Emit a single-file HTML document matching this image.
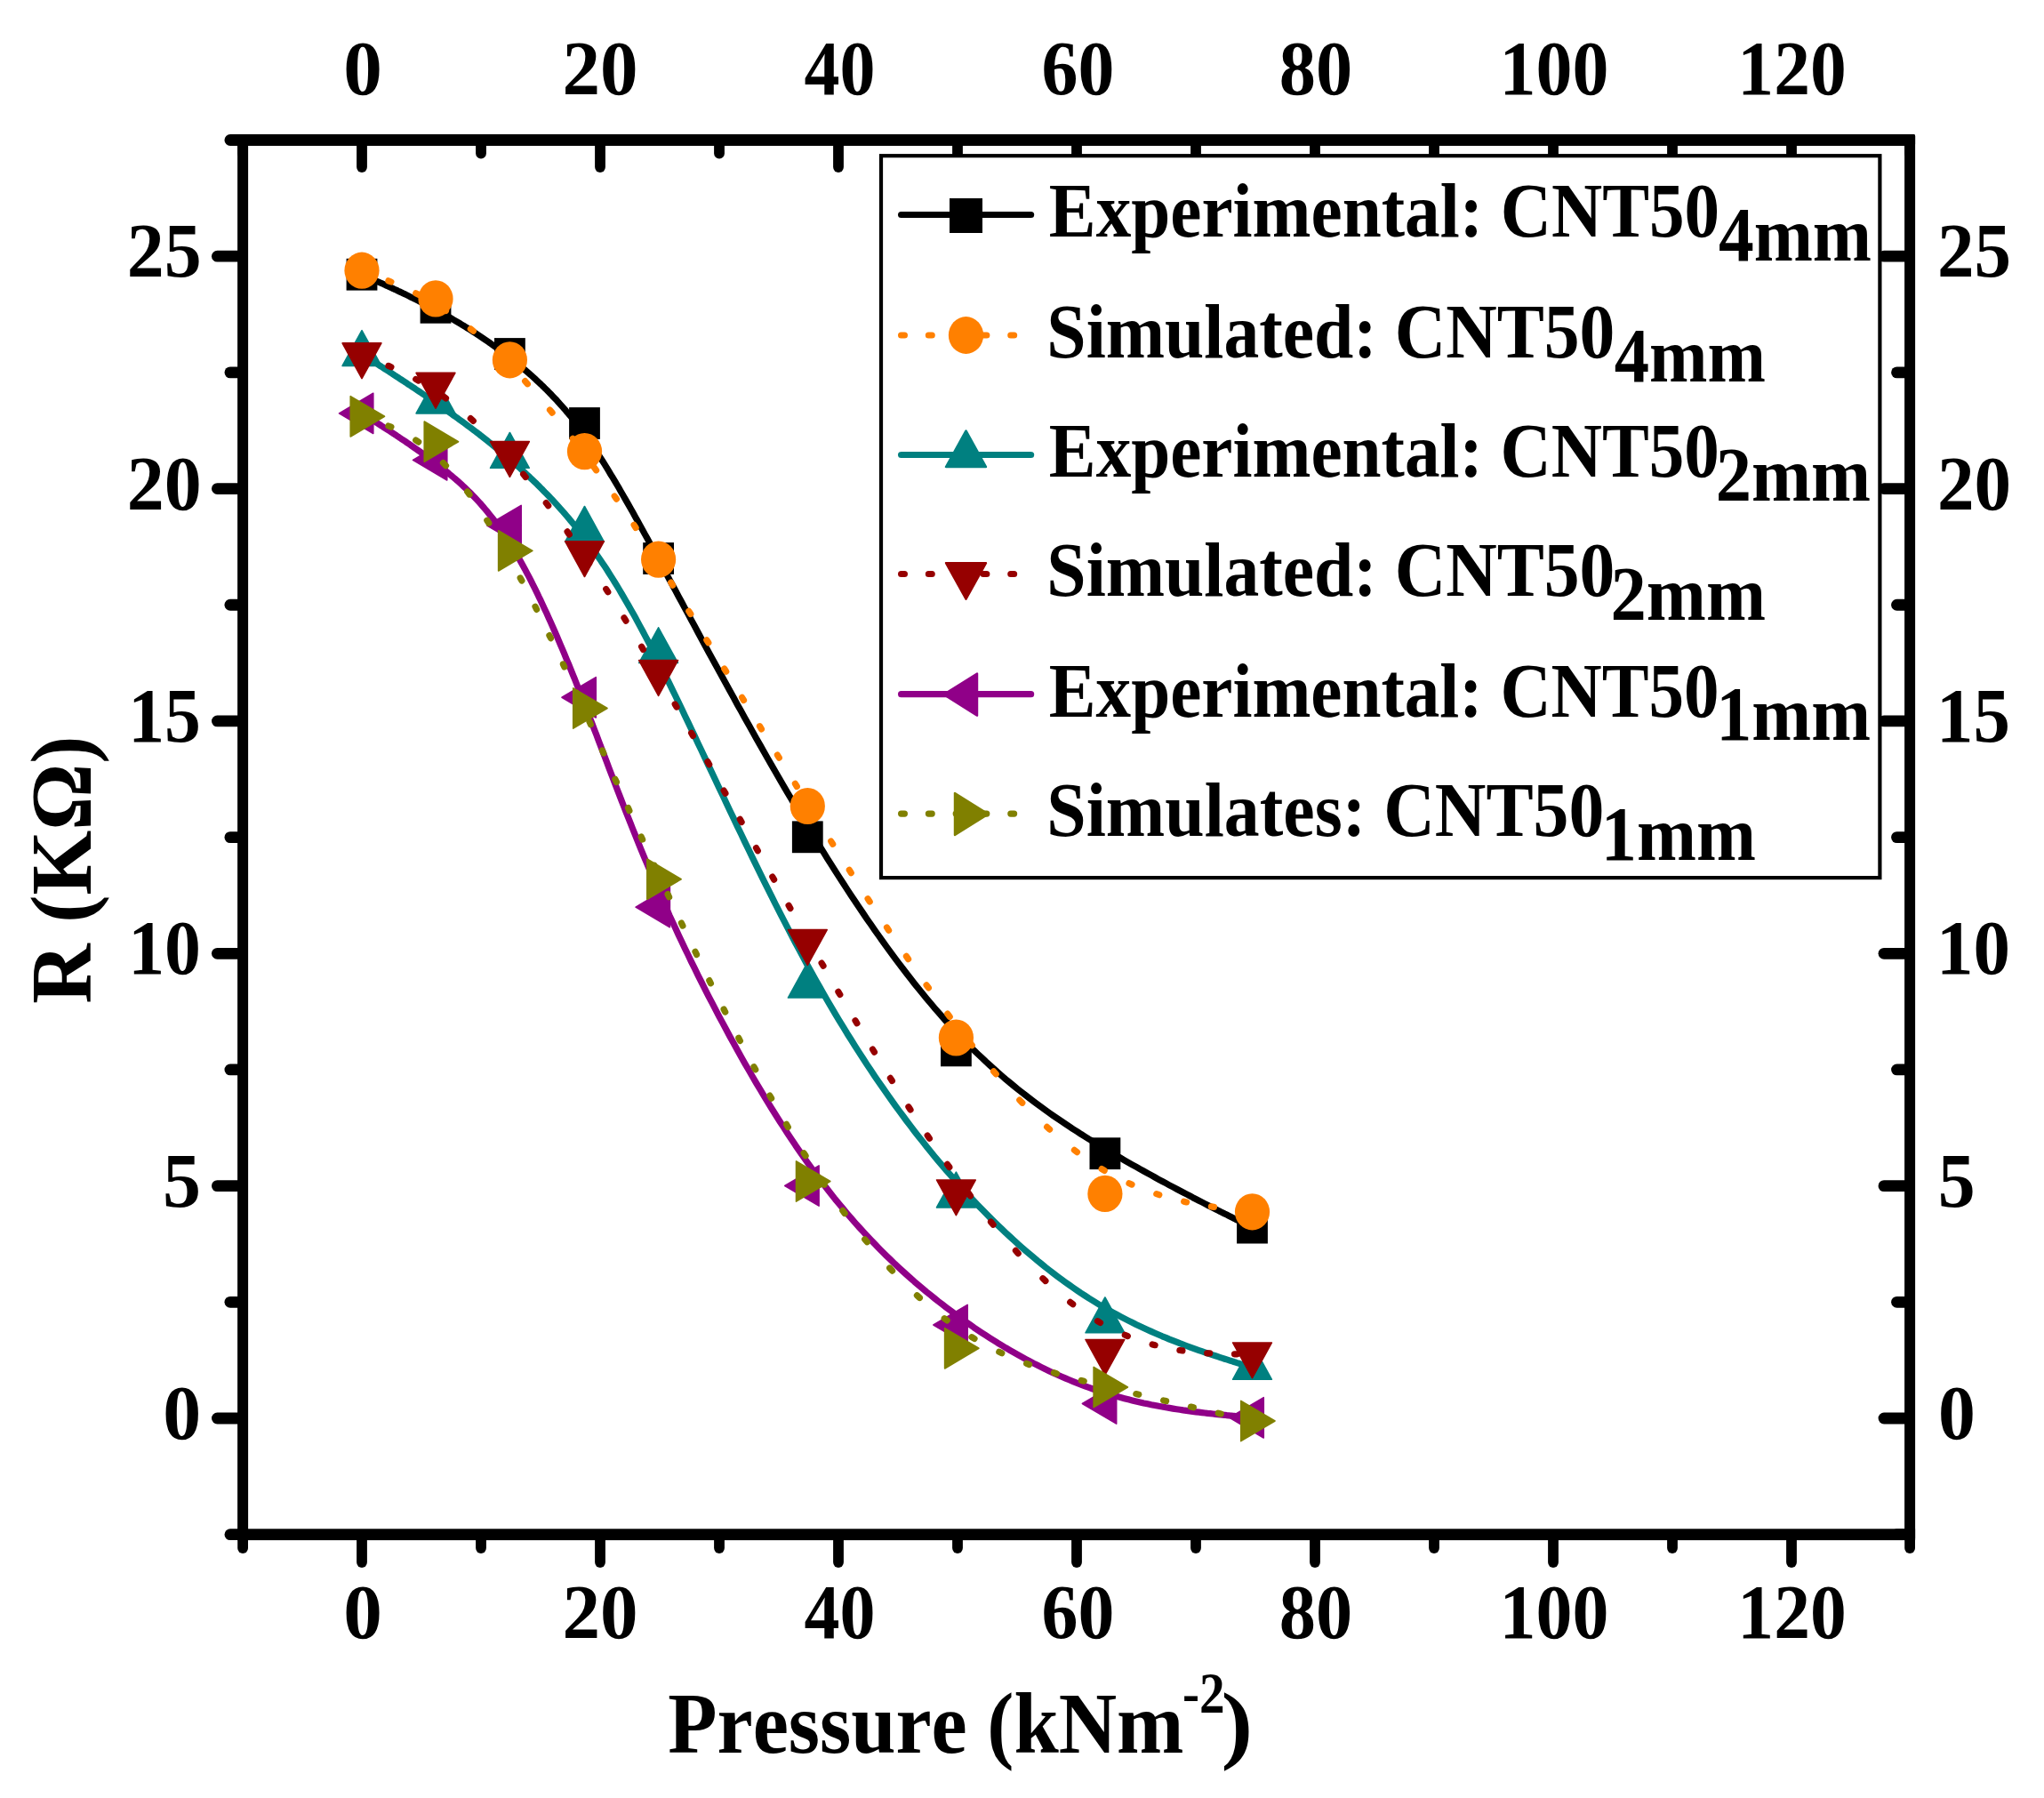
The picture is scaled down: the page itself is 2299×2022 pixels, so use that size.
<!DOCTYPE html>
<html><head><meta charset="utf-8"><title>R vs Pressure</title>
<style>html,body{margin:0;padding:0;background:#fff}svg{display:block}</style>
</head><body>
<svg width="2299" height="2022" viewBox="0 0 2299 2022" shape-rendering="geometricPrecision">
<rect x="0" y="0" width="2299" height="2022" fill="#fff"/>
<g fill="#000">
<rect x="267.10" y="151.10" width="1887.00" height="12.8" rx="2" ry="2"/>
<rect x="267.10" y="1719.30" width="1887.00" height="12.8"/>
<rect x="267.10" y="151.10" width="12.0" height="1581.00"/>
<rect x="2142.10" y="151.10" width="12.0" height="1581.00" rx="2" ry="2"/>
</g>
<g stroke="#000" stroke-width="11.8" fill="none" stroke-linecap="round">
<line x1="273.10" y1="158.5" x2="273.10" y2="172.5"/>
<line x1="273.10" y1="1726.7" x2="273.10" y2="1741.0"/>
<line x1="407.00" y1="158.5" x2="407.00" y2="188.0"/>
<line x1="407.00" y1="1726.7" x2="407.00" y2="1757.0"/>
<line x1="541.00" y1="158.5" x2="541.00" y2="172.5"/>
<line x1="541.00" y1="1726.7" x2="541.00" y2="1741.0"/>
<line x1="675.00" y1="158.5" x2="675.00" y2="188.0"/>
<line x1="675.00" y1="1726.7" x2="675.00" y2="1757.0"/>
<line x1="809.00" y1="158.5" x2="809.00" y2="172.5"/>
<line x1="809.00" y1="1726.7" x2="809.00" y2="1741.0"/>
<line x1="943.00" y1="158.5" x2="943.00" y2="188.0"/>
<line x1="943.00" y1="1726.7" x2="943.00" y2="1757.0"/>
<line x1="1077.00" y1="158.5" x2="1077.00" y2="172.5"/>
<line x1="1077.00" y1="1726.7" x2="1077.00" y2="1741.0"/>
<line x1="1211.00" y1="158.5" x2="1211.00" y2="188.0"/>
<line x1="1211.00" y1="1726.7" x2="1211.00" y2="1757.0"/>
<line x1="1345.00" y1="158.5" x2="1345.00" y2="172.5"/>
<line x1="1345.00" y1="1726.7" x2="1345.00" y2="1741.0"/>
<line x1="1479.00" y1="158.5" x2="1479.00" y2="188.0"/>
<line x1="1479.00" y1="1726.7" x2="1479.00" y2="1757.0"/>
<line x1="1613.00" y1="158.5" x2="1613.00" y2="172.5"/>
<line x1="1613.00" y1="1726.7" x2="1613.00" y2="1741.0"/>
<line x1="1747.00" y1="158.5" x2="1747.00" y2="188.0"/>
<line x1="1747.00" y1="1726.7" x2="1747.00" y2="1757.0"/>
<line x1="1881.00" y1="158.5" x2="1881.00" y2="172.5"/>
<line x1="1881.00" y1="1726.7" x2="1881.00" y2="1741.0"/>
<line x1="2015.00" y1="158.5" x2="2015.00" y2="188.0"/>
<line x1="2015.00" y1="1726.7" x2="2015.00" y2="1757.0"/>
<line x1="2148.10" y1="158.5" x2="2148.10" y2="172.5"/>
<line x1="2148.10" y1="1726.7" x2="2148.10" y2="1741.0"/>
</g>
<g stroke="#000" stroke-width="12.8" fill="none" stroke-linecap="round">
<line x1="272.1" y1="1725.70" x2="258.9" y2="1725.70"/>
<line x1="2147.1" y1="1725.70" x2="2133.5" y2="1725.70"/>
<line x1="272.1" y1="1595.02" x2="244.4" y2="1595.02"/>
<line x1="2147.1" y1="1595.02" x2="2119.0" y2="1595.02"/>
<line x1="272.1" y1="1464.33" x2="258.9" y2="1464.33"/>
<line x1="2147.1" y1="1464.33" x2="2133.5" y2="1464.33"/>
<line x1="272.1" y1="1333.65" x2="244.4" y2="1333.65"/>
<line x1="2147.1" y1="1333.65" x2="2119.0" y2="1333.65"/>
<line x1="272.1" y1="1202.97" x2="258.9" y2="1202.97"/>
<line x1="2147.1" y1="1202.97" x2="2133.5" y2="1202.97"/>
<line x1="272.1" y1="1072.28" x2="244.4" y2="1072.28"/>
<line x1="2147.1" y1="1072.28" x2="2119.0" y2="1072.28"/>
<line x1="272.1" y1="941.60" x2="258.9" y2="941.60"/>
<line x1="2147.1" y1="941.60" x2="2133.5" y2="941.60"/>
<line x1="272.1" y1="810.92" x2="244.4" y2="810.92"/>
<line x1="2147.1" y1="810.92" x2="2119.0" y2="810.92"/>
<line x1="272.1" y1="680.23" x2="258.9" y2="680.23"/>
<line x1="2147.1" y1="680.23" x2="2133.5" y2="680.23"/>
<line x1="272.1" y1="549.55" x2="244.4" y2="549.55"/>
<line x1="2147.1" y1="549.55" x2="2119.0" y2="549.55"/>
<line x1="272.1" y1="418.87" x2="258.9" y2="418.87"/>
<line x1="2147.1" y1="418.87" x2="2133.5" y2="418.87"/>
<line x1="272.1" y1="288.18" x2="244.4" y2="288.18"/>
<line x1="2147.1" y1="288.18" x2="2119.0" y2="288.18"/>
<line x1="272.1" y1="157.50" x2="258.9" y2="157.50"/>
<line x1="2147.1" y1="157.50" x2="2133.5" y2="157.50"/>
</g>
<g font-family="'Liberation Serif', serif" font-weight="bold" fill="#000" style="font-kerning:none">
<text transform="translate(386.28,106.30) scale(0.9977,1)" font-size="87.5" >0</text>
<text transform="translate(386.28,1841.50) scale(0.9977,1)" font-size="87.5" >0</text>
<text transform="translate(632.43,106.30) scale(0.9728,1)" font-size="87.5" >20</text>
<text transform="translate(632.43,1841.50) scale(0.9728,1)" font-size="87.5" >20</text>
<text transform="translate(904.51,106.30) scale(0.9148,1)" font-size="87.5" >40</text>
<text transform="translate(904.51,1841.50) scale(0.9148,1)" font-size="87.5" >40</text>
<text transform="translate(1171.60,106.30) scale(0.9350,1)" font-size="87.5" >60</text>
<text transform="translate(1171.60,1841.50) scale(0.9350,1)" font-size="87.5" >60</text>
<text transform="translate(1438.86,106.30) scale(0.9414,1)" font-size="87.5" >80</text>
<text transform="translate(1438.86,1841.50) scale(0.9414,1)" font-size="87.5" >80</text>
<text transform="translate(1686.54,106.30) scale(0.9362,1)" font-size="87.5" >100</text>
<text transform="translate(1686.54,1841.50) scale(0.9362,1)" font-size="87.5" >100</text>
<text transform="translate(1954.37,106.30) scale(0.9321,1)" font-size="87.5" >120</text>
<text transform="translate(1954.37,1841.50) scale(0.9321,1)" font-size="87.5" >120</text>
<text transform="translate(183.23,1618.02) scale(0.9815,1)" font-size="87.5" >0</text>
<text transform="translate(2180.01,1618.02) scale(0.9573,1)" font-size="87.5" >0</text>
<text transform="translate(183.06,1356.65) scale(0.9827,1)" font-size="87.5" >5</text>
<text transform="translate(2179.84,1356.65) scale(0.9584,1)" font-size="87.5" >5</text>
<text transform="translate(144.25,1095.28) scale(0.9344,1)" font-size="87.5" >10</text>
<text transform="translate(2178.05,1095.28) scale(0.9487,1)" font-size="87.5" >10</text>
<text transform="translate(144.26,833.92) scale(0.9329,1)" font-size="87.5" >15</text>
<text transform="translate(2178.06,833.92) scale(0.9471,1)" font-size="87.5" >15</text>
<text transform="translate(142.78,572.55) scale(0.9591,1)" font-size="87.5" >20</text>
<text transform="translate(2179.01,572.55) scale(0.9504,1)" font-size="87.5" >20</text>
<text transform="translate(142.78,311.18) scale(0.9576,1)" font-size="87.5" >25</text>
<text transform="translate(2179.01,311.18) scale(0.9489,1)" font-size="87.5" >25</text>
<text transform="translate(751.25,1970.90) scale(0.9326,1)" font-size="97.0" >Pressure (kNm</text>
<text transform="translate(1329.91,1925.60) scale(0.8668,1)" font-size="66" >-2</text>
<text transform="translate(1373.55,1970.90) scale(1.1038,1)" font-size="97.0" >)</text>
<text transform="translate(101.8,1128.70) rotate(-90) scale(0.9647,1)" font-size="97.0">R (K&#937;)</text>
</g>
<path d="M407.0,308.7 L407.0,308.7 L407.0,308.7 L407.0,308.7 L407.0,308.7 L407.0,308.7 L407.1,308.7 L407.1,308.7 L407.1,308.8 L407.2,308.8 L407.3,308.8 L407.3,308.9 L407.5,308.9 L407.6,309.0 L407.7,309.0 L407.9,309.1 L408.1,309.2 L408.3,309.3 L408.5,309.4 L408.8,309.5 L409.1,309.6 L409.4,309.8 L409.8,309.9 L410.2,310.1 L410.6,310.3 L411.1,310.5 L411.6,310.8 L412.2,311.0 L412.8,311.3 L413.4,311.6 L414.1,311.9 L414.8,312.2 L415.6,312.5 L416.4,312.9 L417.3,313.3 L418.2,313.7 L419.2,314.2 L420.3,314.6 L421.4,315.1 L422.6,315.7 L423.8,316.2 L425.1,316.8 L426.4,317.4 L427.8,318.0 L429.2,318.6 L430.7,319.3 L432.2,320.0 L433.8,320.7 L435.4,321.5 L437.1,322.2 L438.8,323.0 L440.5,323.8 L442.3,324.6 L444.1,325.5 L446.0,326.3 L447.8,327.2 L449.8,328.1 L451.7,329.0 L453.7,330.0 L455.7,330.9 L457.7,331.9 L459.7,332.9 L461.8,333.9 L463.9,334.9 L466.0,336.0 L468.2,337.0 L470.3,338.1 L472.5,339.2 L474.6,340.3 L476.8,341.4 L479.0,342.5 L481.2,343.6 L483.4,344.8 L485.6,346.0 L487.8,347.1 L490.1,348.3 L492.3,349.5 L494.5,350.7 L496.7,351.9 L498.9,353.2 L501.2,354.4 L503.4,355.7 L505.6,356.9 L507.8,358.2 L510.0,359.5 L512.3,360.8 L514.5,362.1 L516.7,363.4 L518.9,364.8 L521.2,366.1 L523.4,367.5 L525.6,368.9 L527.8,370.3 L530.1,371.7 L532.3,373.1 L534.5,374.5 L536.7,376.0 L539.0,377.5 L541.2,379.0 L543.4,380.5 L545.6,382.0 L547.9,383.5 L550.1,385.0 L552.3,386.6 L554.6,388.2 L556.8,389.8 L559.0,391.4 L561.2,393.0 L563.5,394.7 L565.7,396.3 L567.9,398.0 L570.2,399.7 L572.4,401.4 L574.6,403.2 L576.9,404.9 L579.1,406.7 L581.3,408.5 L583.6,410.3 L585.8,412.2 L588.0,414.0 L590.3,415.9 L592.5,417.8 L594.8,419.8 L597.0,421.7 L599.2,423.7 L601.5,425.7 L603.7,427.8 L605.9,429.9 L608.2,432.0 L610.4,434.1 L612.6,436.3 L614.9,438.5 L617.1,440.8 L619.4,443.1 L621.6,445.4 L623.8,447.7 L626.1,450.1 L628.3,452.6 L630.5,455.1 L632.8,457.6 L635.0,460.1 L637.2,462.8 L639.5,465.4 L641.7,468.1 L643.9,470.8 L646.2,473.6 L648.4,476.5 L650.6,479.4 L652.9,482.3 L655.1,485.3 L657.3,488.3 L659.6,491.4 L661.8,494.6 L664.0,497.8 L666.3,501.0 L668.5,504.4 L670.8,507.7 L673.0,511.2 L675.3,514.7 L677.6,518.3 L679.9,521.9 L682.2,525.6 L684.5,529.4 L686.8,533.3 L689.2,537.2 L691.6,541.2 L694.0,545.3 L696.5,549.4 L698.9,553.7 L701.4,558.0 L703.9,562.4 L706.5,566.9 L709.1,571.5 L711.7,576.1 L714.4,580.9 L717.1,585.8 L719.8,590.7 L722.6,595.7 L725.4,600.9 L728.3,606.1 L731.2,611.5 L734.2,616.9 L737.2,622.5 L740.2,628.1 L743.4,633.9 L746.5,639.7 L749.8,645.7 L753.0,651.8 L756.4,658.0 L759.8,664.3 L763.2,670.7 L766.8,677.3 L770.3,683.9 L774.0,690.6 L777.6,697.4 L781.4,704.3 L785.1,711.3 L789.0,718.4 L792.8,725.5 L796.7,732.7 L800.7,739.9 L804.7,747.3 L808.7,754.6 L812.8,762.1 L816.9,769.5 L821.0,777.0 L825.2,784.6 L829.3,792.2 L833.6,799.8 L837.8,807.4 L842.1,815.1 L846.4,822.7 L850.7,830.4 L855.1,838.1 L859.4,845.8 L863.8,853.5 L868.2,861.1 L872.6,868.8 L877.0,876.4 L881.5,884.1 L885.9,891.6 L890.4,899.2 L894.8,906.7 L899.3,914.2 L903.7,921.7 L908.2,929.1 L912.7,936.5 L917.1,943.8 L921.6,951.0 L926.1,958.2 L930.5,965.3 L935.0,972.4 L939.4,979.4 L943.9,986.4 L948.4,993.3 L952.8,1000.1 L957.3,1006.9 L961.7,1013.6 L966.2,1020.3 L970.7,1026.9 L975.1,1033.4 L979.6,1039.8 L984.0,1046.2 L988.5,1052.5 L993.0,1058.8 L997.4,1065.0 L1001.9,1071.1 L1006.3,1077.1 L1010.8,1083.1 L1015.3,1089.0 L1019.7,1094.8 L1024.2,1100.5 L1028.6,1106.2 L1033.1,1111.8 L1037.6,1117.3 L1042.0,1122.7 L1046.5,1128.0 L1050.9,1133.3 L1055.4,1138.4 L1059.9,1143.5 L1064.3,1148.5 L1068.8,1153.5 L1073.2,1158.3 L1077.7,1163.0 L1082.2,1167.7 L1086.6,1172.3 L1091.1,1176.8 L1095.5,1181.2 L1100.0,1185.5 L1104.5,1189.7 L1108.9,1193.9 L1113.4,1198.0 L1117.9,1202.0 L1122.3,1206.0 L1126.8,1209.9 L1131.2,1213.7 L1135.7,1217.4 L1140.2,1221.1 L1144.6,1224.7 L1149.1,1228.3 L1153.5,1231.7 L1158.0,1235.2 L1162.5,1238.6 L1166.9,1241.9 L1171.4,1245.2 L1175.8,1248.4 L1180.3,1251.6 L1184.7,1254.7 L1189.2,1257.8 L1193.7,1260.8 L1198.1,1263.8 L1202.6,1266.8 L1207.0,1269.7 L1211.5,1272.5 L1215.9,1275.4 L1220.4,1278.2 L1224.8,1281.0 L1229.3,1283.7 L1233.7,1286.4 L1238.1,1289.1 L1242.6,1291.8 L1247.0,1294.4 L1251.5,1297.1 L1255.9,1299.7 L1260.3,1302.2 L1264.7,1304.8 L1269.1,1307.3 L1273.5,1309.8 L1277.8,1312.2 L1282.1,1314.7 L1286.4,1317.0 L1290.7,1319.4 L1294.9,1321.7 L1299.1,1324.0 L1303.2,1326.3 L1307.3,1328.5 L1311.4,1330.7 L1315.3,1332.8 L1319.3,1334.9 L1323.2,1337.0 L1327.0,1339.0 L1330.8,1341.0 L1334.5,1342.9 L1338.1,1344.8 L1341.6,1346.7 L1345.1,1348.5 L1348.5,1350.2 L1351.8,1351.9 L1355.1,1353.6 L1358.2,1355.2 L1361.2,1356.8 L1364.2,1358.3 L1367.1,1359.7 L1369.8,1361.1 L1372.5,1362.5 L1375.0,1363.7 L1377.5,1365.0 L1379.8,1366.1 L1382.0,1367.2 L1384.1,1368.3 L1386.1,1369.3 L1387.9,1370.2 L1389.7,1371.1 L1391.3,1372.0 L1392.9,1372.7 L1394.4,1373.5 L1395.7,1374.2 L1397.0,1374.8 L1398.2,1375.4 L1399.3,1376.0 L1400.3,1376.5 L1401.3,1377.0 L1402.1,1377.4 L1402.9,1377.8 L1403.7,1378.2 L1404.3,1378.5 L1404.9,1378.8 L1405.4,1379.1 L1405.9,1379.3 L1406.4,1379.5 L1406.7,1379.7 L1407.1,1379.9 L1407.4,1380.0 L1407.6,1380.1 L1407.8,1380.2 L1408.0,1380.3 L1408.1,1380.4 L1408.2,1380.5 L1408.3,1380.5 L1408.4,1380.5 L1408.4,1380.6 L1408.5,1380.6 L1408.5,1380.6 L1408.5,1380.6 L1408.5,1380.6 L1408.5,1380.6" fill="none" stroke="#000000" stroke-width="7.2" stroke-linejoin="round" stroke-linecap="round"/>
<rect x="389.60" y="290.80" width="34.8" height="35.8" fill="#000000"/>
<rect x="472.60" y="327.90" width="34.8" height="35.8" fill="#000000"/>
<rect x="556.00" y="380.10" width="34.8" height="35.8" fill="#000000"/>
<rect x="640.10" y="458.10" width="34.8" height="35.8" fill="#000000"/>
<rect x="723.20" y="610.10" width="34.8" height="35.8" fill="#000000"/>
<rect x="890.90" y="923.40" width="34.8" height="35.8" fill="#000000"/>
<rect x="1058.00" y="1163.50" width="34.8" height="35.8" fill="#000000"/>
<rect x="1225.50" y="1279.30" width="34.8" height="35.8" fill="#000000"/>
<rect x="1391.10" y="1362.70" width="34.8" height="35.8" fill="#000000"/>
<path d="M407.0,304.2L409.1,305.0M436.9,315.8L439.9,317.0M467.7,329.8L470.7,331.3M498.5,347.4L501.5,349.4M529.3,369.9L532.3,372.3M560.1,397.1L563.1,400.0M590.6,428.6L593.4,431.8M618.5,461.0L621.1,464.1M644.2,493.3L646.6,496.5M668.3,525.7L670.6,528.8M691.2,558.0L693.4,561.1M713.1,590.3L715.1,593.5M734.1,622.7L736.1,625.8M754.7,655.0L756.6,658.2M774.8,687.4L776.8,690.5M794.8,719.7L796.8,722.8M814.7,752.0L816.7,755.2M834.6,784.4L836.5,787.5M854.5,816.7L856.4,819.9M874.4,849.1L876.3,852.2M894.4,881.4L896.3,884.5M914.5,913.7L916.4,916.9M934.7,946.1L936.7,949.2M955.3,978.4L957.3,981.6M976.1,1010.8L978.2,1013.9M997.5,1043.1L999.6,1046.2M1019.4,1075.4L1021.6,1078.6M1042.1,1107.8L1044.4,1110.9M1065.8,1140.1L1068.2,1143.3M1090.8,1172.5L1093.3,1175.6M1117.6,1204.8L1120.3,1207.9M1146.8,1237.1L1149.8,1240.3M1177.6,1267.4L1180.6,1270.1M1208.4,1293.4L1211.4,1295.6M1239.2,1314.6L1242.2,1316.4M1270.0,1330.8L1273.0,1332.1M1300.8,1342.7L1303.8,1343.7M1331.6,1351.2L1334.6,1351.9M1362.4,1356.9L1365.4,1357.4M1393.2,1360.9L1396.2,1361.3" fill="none" stroke="#FF8000" stroke-width="7.2" stroke-linecap="round"/>
<ellipse cx="407.00" cy="304.20" rx="19.6" ry="20.6" fill="#FF8000"/>
<ellipse cx="490.00" cy="335.90" rx="19.6" ry="20.6" fill="#FF8000"/>
<ellipse cx="573.40" cy="404.80" rx="19.6" ry="20.6" fill="#FF8000"/>
<ellipse cx="657.50" cy="507.60" rx="19.6" ry="20.6" fill="#FF8000"/>
<ellipse cx="740.60" cy="629.10" rx="19.6" ry="20.6" fill="#FF8000"/>
<ellipse cx="908.30" cy="906.50" rx="19.6" ry="20.6" fill="#FF8000"/>
<ellipse cx="1075.40" cy="1167.00" rx="19.6" ry="20.6" fill="#FF8000"/>
<ellipse cx="1242.90" cy="1342.40" rx="19.6" ry="20.6" fill="#FF8000"/>
<ellipse cx="1408.50" cy="1362.80" rx="19.6" ry="20.6" fill="#FF8000"/>
<path d="M407.0,398.2 L407.0,398.2 L407.0,398.2 L407.0,398.2 L407.0,398.2 L407.0,398.2 L407.1,398.2 L407.1,398.3 L407.1,398.3 L407.2,398.3 L407.3,398.4 L407.3,398.4 L407.5,398.5 L407.6,398.6 L407.7,398.7 L407.9,398.8 L408.1,398.9 L408.3,399.0 L408.5,399.2 L408.8,399.4 L409.1,399.6 L409.4,399.8 L409.8,400.0 L410.2,400.3 L410.6,400.5 L411.1,400.8 L411.6,401.2 L412.2,401.5 L412.8,401.9 L413.4,402.3 L414.1,402.8 L414.8,403.2 L415.6,403.7 L416.4,404.3 L417.3,404.8 L418.2,405.4 L419.2,406.1 L420.3,406.7 L421.4,407.5 L422.6,408.2 L423.8,409.0 L425.1,409.8 L426.4,410.7 L427.8,411.6 L429.2,412.5 L430.7,413.4 L432.2,414.4 L433.8,415.5 L435.4,416.5 L437.1,417.6 L438.8,418.7 L440.5,419.8 L442.3,421.0 L444.1,422.2 L446.0,423.4 L447.8,424.6 L449.8,425.9 L451.7,427.1 L453.7,428.4 L455.7,429.8 L457.7,431.1 L459.7,432.5 L461.8,433.8 L463.9,435.2 L466.0,436.6 L468.2,438.1 L470.3,439.5 L472.5,440.9 L474.6,442.4 L476.8,443.9 L479.0,445.4 L481.2,446.9 L483.4,448.4 L485.6,449.9 L487.8,451.4 L490.1,452.9 L492.3,454.5 L494.5,456.0 L496.7,457.6 L498.9,459.1 L501.2,460.7 L503.4,462.2 L505.6,463.8 L507.8,465.4 L510.0,467.0 L512.3,468.6 L514.5,470.2 L516.7,471.8 L518.9,473.4 L521.2,475.0 L523.4,476.7 L525.6,478.3 L527.8,480.0 L530.1,481.7 L532.3,483.3 L534.5,485.0 L536.7,486.7 L539.0,488.4 L541.2,490.2 L543.4,491.9 L545.6,493.6 L547.9,495.4 L550.1,497.2 L552.3,499.0 L554.6,500.8 L556.8,502.6 L559.0,504.4 L561.2,506.2 L563.5,508.1 L565.7,510.0 L567.9,511.8 L570.2,513.7 L572.4,515.6 L574.6,517.6 L576.9,519.5 L579.1,521.5 L581.3,523.4 L583.6,525.4 L585.8,527.4 L588.0,529.5 L590.3,531.5 L592.5,533.6 L594.8,535.7 L597.0,537.8 L599.2,539.9 L601.5,542.1 L603.7,544.2 L605.9,546.4 L608.2,548.7 L610.4,550.9 L612.6,553.2 L614.9,555.5 L617.1,557.8 L619.4,560.2 L621.6,562.5 L623.8,564.9 L626.1,567.4 L628.3,569.9 L630.5,572.4 L632.8,574.9 L635.0,577.4 L637.2,580.0 L639.5,582.7 L641.7,585.3 L643.9,588.0 L646.2,590.7 L648.4,593.5 L650.6,596.3 L652.9,599.1 L655.1,602.0 L657.3,604.9 L659.6,607.8 L661.8,610.8 L664.0,613.8 L666.3,616.9 L668.5,620.1 L670.8,623.2 L673.0,626.5 L675.3,629.8 L677.6,633.2 L679.9,636.6 L682.2,640.1 L684.5,643.7 L686.8,647.4 L689.2,651.2 L691.6,655.0 L694.0,658.9 L696.5,663.0 L698.9,667.1 L701.4,671.3 L703.9,675.7 L706.5,680.1 L709.1,684.7 L711.7,689.3 L714.4,694.1 L717.1,699.1 L719.8,704.1 L722.6,709.3 L725.4,714.6 L728.3,720.0 L731.2,725.6 L734.2,731.3 L737.2,737.2 L740.2,743.2 L743.4,749.4 L746.5,755.8 L749.8,762.3 L753.0,768.9 L756.4,775.8 L759.8,782.8 L763.2,789.9 L766.8,797.3 L770.3,804.7 L774.0,812.3 L777.6,820.1 L781.4,827.9 L785.1,835.9 L789.0,844.0 L792.8,852.1 L796.7,860.4 L800.7,868.8 L804.7,877.2 L808.7,885.8 L812.8,894.3 L816.9,903.0 L821.0,911.7 L825.2,920.4 L829.3,929.2 L833.6,938.0 L837.8,946.9 L842.1,955.7 L846.4,964.6 L850.7,973.4 L855.1,982.3 L859.4,991.1 L863.8,999.9 L868.2,1008.7 L872.6,1017.5 L877.0,1026.2 L881.5,1034.8 L885.9,1043.4 L890.4,1052.0 L894.8,1060.5 L899.3,1068.8 L903.7,1077.2 L908.2,1085.4 L912.7,1093.5 L917.1,1101.5 L921.6,1109.4 L926.1,1117.2 L930.5,1125.0 L935.0,1132.6 L939.4,1140.1 L943.9,1147.6 L948.4,1154.9 L952.8,1162.2 L957.3,1169.3 L961.7,1176.4 L966.2,1183.4 L970.7,1190.3 L975.1,1197.1 L979.6,1203.8 L984.0,1210.4 L988.5,1217.0 L993.0,1223.4 L997.4,1229.8 L1001.9,1236.1 L1006.3,1242.3 L1010.8,1248.5 L1015.3,1254.5 L1019.7,1260.5 L1024.2,1266.4 L1028.6,1272.2 L1033.1,1278.0 L1037.6,1283.6 L1042.0,1289.2 L1046.5,1294.7 L1050.9,1300.2 L1055.4,1305.6 L1059.9,1310.9 L1064.3,1316.1 L1068.8,1321.2 L1073.2,1326.3 L1077.7,1331.4 L1082.2,1336.3 L1086.6,1341.2 L1091.1,1346.0 L1095.5,1350.8 L1100.0,1355.5 L1104.5,1360.1 L1108.9,1364.6 L1113.4,1369.1 L1117.9,1373.5 L1122.3,1377.9 L1126.8,1382.2 L1131.2,1386.4 L1135.7,1390.5 L1140.2,1394.6 L1144.6,1398.7 L1149.1,1402.6 L1153.5,1406.5 L1158.0,1410.3 L1162.5,1414.1 L1166.9,1417.8 L1171.4,1421.4 L1175.8,1425.0 L1180.3,1428.5 L1184.7,1431.9 L1189.2,1435.3 L1193.7,1438.6 L1198.1,1441.8 L1202.6,1445.0 L1207.0,1448.1 L1211.5,1451.2 L1215.9,1454.2 L1220.4,1457.1 L1224.8,1460.0 L1229.3,1462.8 L1233.7,1465.5 L1238.1,1468.2 L1242.6,1470.8 L1247.0,1473.3 L1251.5,1475.8 L1255.9,1478.2 L1260.3,1480.6 L1264.7,1482.9 L1269.1,1485.1 L1273.5,1487.3 L1277.8,1489.5 L1282.1,1491.5 L1286.4,1493.5 L1290.7,1495.5 L1294.9,1497.4 L1299.1,1499.2 L1303.2,1501.0 L1307.3,1502.8 L1311.4,1504.4 L1315.3,1506.1 L1319.3,1507.7 L1323.2,1509.2 L1327.0,1510.7 L1330.8,1512.1 L1334.5,1513.5 L1338.1,1514.8 L1341.6,1516.1 L1345.1,1517.4 L1348.5,1518.6 L1351.8,1519.7 L1355.1,1520.8 L1358.2,1521.9 L1361.2,1522.9 L1364.2,1523.9 L1367.1,1524.8 L1369.8,1525.7 L1372.5,1526.6 L1375.0,1527.4 L1377.5,1528.2 L1379.8,1528.9 L1382.0,1529.6 L1384.1,1530.3 L1386.1,1530.9 L1387.9,1531.5 L1389.7,1532.0 L1391.3,1532.6 L1392.9,1533.1 L1394.4,1533.5 L1395.7,1534.0 L1397.0,1534.4 L1398.2,1534.7 L1399.3,1535.1 L1400.3,1535.4 L1401.3,1535.7 L1402.1,1536.0 L1402.9,1536.2 L1403.7,1536.5 L1404.3,1536.7 L1404.9,1536.9 L1405.4,1537.0 L1405.9,1537.2 L1406.4,1537.3 L1406.7,1537.4 L1407.1,1537.5 L1407.4,1537.6 L1407.6,1537.7 L1407.8,1537.8 L1408.0,1537.8 L1408.1,1537.9 L1408.2,1537.9 L1408.3,1537.9 L1408.4,1538.0 L1408.4,1538.0 L1408.5,1538.0 L1408.5,1538.0 L1408.5,1538.0 L1408.5,1538.0 L1408.5,1538.0" fill="none" stroke="#008080" stroke-width="7.2" stroke-linejoin="round" stroke-linecap="round"/>
<polygon points="407.00,371.67 385.10,411.47 428.90,411.47" fill="#008080" stroke="#008080" stroke-width="1.6" stroke-linejoin="round"/>
<polygon points="490.00,425.07 468.10,464.87 511.90,464.87" fill="#008080" stroke="#008080" stroke-width="1.6" stroke-linejoin="round"/>
<polygon points="573.40,486.47 551.50,526.27 595.30,526.27" fill="#008080" stroke="#008080" stroke-width="1.6" stroke-linejoin="round"/>
<polygon points="657.50,569.47 635.60,609.27 679.40,609.27" fill="#008080" stroke="#008080" stroke-width="1.6" stroke-linejoin="round"/>
<polygon points="740.60,705.77 718.70,745.57 762.50,745.57" fill="#008080" stroke="#008080" stroke-width="1.6" stroke-linejoin="round"/>
<polygon points="908.30,1082.27 886.40,1122.07 930.20,1122.07" fill="#008080" stroke="#008080" stroke-width="1.6" stroke-linejoin="round"/>
<polygon points="1075.40,1318.17 1053.50,1357.97 1097.30,1357.97" fill="#008080" stroke="#008080" stroke-width="1.6" stroke-linejoin="round"/>
<polygon points="1242.90,1458.97 1221.00,1498.77 1264.80,1498.77" fill="#008080" stroke="#008080" stroke-width="1.6" stroke-linejoin="round"/>
<polygon points="1408.50,1511.47 1386.60,1551.27 1430.40,1551.27" fill="#008080" stroke="#008080" stroke-width="1.6" stroke-linejoin="round"/>
<path d="M407.0,399.1L409.1,399.9M436.9,411.4L439.9,412.7M467.7,426.4L470.7,428.1M498.5,445.7L501.5,447.9M529.3,470.6L532.3,473.4M560.1,500.9L563.0,504.0M588.6,533.2L591.2,536.4M614.3,565.6L616.7,568.7M638.1,597.9L640.3,601.1M660.5,630.2L662.6,633.4M681.7,662.6L683.8,665.7M702.0,694.9L704.0,698.1M721.6,727.3L723.4,730.4M740.6,759.6L742.4,762.8M759.2,791.9L761.0,795.1M777.6,824.3L779.4,827.4M795.9,856.6L797.7,859.8M814.1,889.0L815.9,892.1M832.3,921.3L834.1,924.5M850.5,953.6L852.3,956.8M868.8,986.0L870.6,989.1M887.1,1018.3L888.9,1021.5M905.6,1050.7L907.4,1053.8M924.1,1083.0L926.0,1086.2M942.9,1115.3L944.8,1118.5M962.0,1147.7L963.9,1150.8M981.5,1180.0L983.4,1183.2M1001.4,1212.4L1003.4,1215.5M1021.9,1244.7L1024.0,1247.9M1043.2,1277.0L1045.4,1280.2M1065.5,1309.4L1067.8,1312.5M1089.2,1341.7L1091.5,1344.9M1114.5,1374.1L1117.1,1377.2M1142.4,1406.4L1145.2,1409.6M1172.9,1437.7L1175.9,1440.5M1203.7,1464.4L1206.7,1466.7M1234.5,1485.7L1237.5,1487.5M1265.3,1501.3L1268.3,1502.6M1296.1,1511.9L1299.1,1512.7M1326.9,1518.5L1329.9,1518.9M1357.7,1521.8L1360.7,1521.9M1388.5,1522.8L1391.5,1522.8" fill="none" stroke="#960000" stroke-width="7.2" stroke-linecap="round"/>
<polygon points="407.00,425.63 385.10,385.83 428.90,385.83" fill="#960000" stroke="#960000" stroke-width="1.6" stroke-linejoin="round"/>
<polygon points="490.00,459.13 468.10,419.33 511.90,419.33" fill="#960000" stroke="#960000" stroke-width="1.6" stroke-linejoin="round"/>
<polygon points="573.40,536.33 551.50,496.53 595.30,496.53" fill="#960000" stroke="#960000" stroke-width="1.6" stroke-linejoin="round"/>
<polygon points="657.50,648.53 635.60,608.73 679.40,608.73" fill="#960000" stroke="#960000" stroke-width="1.6" stroke-linejoin="round"/>
<polygon points="740.60,782.43 718.70,742.63 762.50,742.63" fill="#960000" stroke="#960000" stroke-width="1.6" stroke-linejoin="round"/>
<polygon points="908.30,1085.43 886.40,1045.63 930.20,1045.63" fill="#960000" stroke="#960000" stroke-width="1.6" stroke-linejoin="round"/>
<polygon points="1075.40,1366.73 1053.50,1326.93 1097.30,1326.93" fill="#960000" stroke="#960000" stroke-width="1.6" stroke-linejoin="round"/>
<polygon points="1242.90,1546.23 1221.00,1506.43 1264.80,1506.43" fill="#960000" stroke="#960000" stroke-width="1.6" stroke-linejoin="round"/>
<polygon points="1408.50,1549.73 1386.60,1509.93 1430.40,1509.93" fill="#960000" stroke="#960000" stroke-width="1.6" stroke-linejoin="round"/>
<path d="M407.0,464.9 L407.0,464.9 L407.0,464.9 L407.0,464.9 L407.0,464.9 L407.0,464.9 L407.1,464.9 L407.1,465.0 L407.1,465.0 L407.2,465.0 L407.3,465.1 L407.3,465.1 L407.5,465.2 L407.6,465.3 L407.7,465.4 L407.9,465.5 L408.1,465.6 L408.3,465.7 L408.5,465.9 L408.8,466.0 L409.1,466.2 L409.4,466.4 L409.8,466.7 L410.2,466.9 L410.6,467.2 L411.1,467.5 L411.6,467.8 L412.2,468.2 L412.8,468.5 L413.4,468.9 L414.1,469.4 L414.8,469.8 L415.6,470.3 L416.4,470.9 L417.3,471.4 L418.2,472.0 L419.2,472.6 L420.3,473.3 L421.4,474.0 L422.6,474.7 L423.8,475.5 L425.1,476.3 L426.4,477.2 L427.8,478.0 L429.2,479.0 L430.7,479.9 L432.2,480.9 L433.8,481.9 L435.4,482.9 L437.1,484.0 L438.8,485.1 L440.5,486.3 L442.3,487.4 L444.1,488.6 L446.0,489.8 L447.8,491.1 L449.8,492.4 L451.7,493.7 L453.7,495.0 L455.7,496.3 L457.7,497.7 L459.7,499.1 L461.8,500.5 L463.9,502.0 L466.0,503.5 L468.2,505.0 L470.3,506.5 L472.5,508.0 L474.6,509.5 L476.8,511.1 L479.0,512.7 L481.2,514.3 L483.4,515.9 L485.6,517.6 L487.8,519.2 L490.1,520.9 L492.3,522.6 L494.5,524.3 L496.7,526.0 L498.9,527.8 L501.2,529.5 L503.4,531.3 L505.6,533.2 L507.8,535.0 L510.0,536.9 L512.3,538.8 L514.5,540.7 L516.7,542.7 L518.9,544.7 L521.2,546.8 L523.4,548.9 L525.6,551.0 L527.8,553.2 L530.1,555.4 L532.3,557.7 L534.5,560.0 L536.7,562.4 L539.0,564.9 L541.2,567.3 L543.4,569.9 L545.6,572.5 L547.9,575.2 L550.1,577.9 L552.3,580.7 L554.6,583.6 L556.8,586.5 L559.0,589.5 L561.2,592.6 L563.5,595.8 L565.7,599.0 L567.9,602.3 L570.2,605.7 L572.4,609.2 L574.6,612.7 L576.9,616.4 L579.1,620.1 L581.3,623.9 L583.6,627.8 L585.8,631.8 L588.0,635.8 L590.3,639.9 L592.5,644.1 L594.8,648.4 L597.0,652.7 L599.2,657.1 L601.5,661.6 L603.7,666.1 L605.9,670.8 L608.2,675.4 L610.4,680.2 L612.6,685.0 L614.9,689.8 L617.1,694.7 L619.4,699.7 L621.6,704.7 L623.8,709.8 L626.1,714.9 L628.3,720.1 L630.5,725.3 L632.8,730.6 L635.0,735.9 L637.2,741.3 L639.5,746.7 L641.7,752.2 L643.9,757.7 L646.2,763.2 L648.4,768.8 L650.6,774.4 L652.9,780.0 L655.1,785.7 L657.3,791.4 L659.6,797.1 L661.8,802.9 L664.0,808.7 L666.3,814.5 L668.5,820.4 L670.8,826.3 L673.0,832.2 L675.3,838.2 L677.6,844.2 L679.9,850.2 L682.2,856.3 L684.5,862.4 L686.8,868.6 L689.2,874.7 L691.6,881.0 L694.0,887.2 L696.5,893.6 L698.9,899.9 L701.4,906.3 L703.9,912.7 L706.5,919.2 L709.1,925.7 L711.7,932.3 L714.4,938.9 L717.1,945.6 L719.8,952.3 L722.6,959.1 L725.4,965.9 L728.3,972.7 L731.2,979.6 L734.2,986.6 L737.2,993.6 L740.2,1000.6 L743.4,1007.7 L746.5,1014.9 L749.8,1022.1 L753.0,1029.4 L756.4,1036.7 L759.8,1044.1 L763.2,1051.5 L766.8,1059.0 L770.3,1066.5 L774.0,1074.0 L777.6,1081.6 L781.4,1089.2 L785.1,1096.8 L789.0,1104.5 L792.8,1112.1 L796.7,1119.8 L800.7,1127.4 L804.7,1135.1 L808.7,1142.8 L812.8,1150.4 L816.9,1158.0 L821.0,1165.7 L825.2,1173.3 L829.3,1180.8 L833.6,1188.4 L837.8,1195.9 L842.1,1203.3 L846.4,1210.7 L850.7,1218.1 L855.1,1225.4 L859.4,1232.7 L863.8,1239.9 L868.2,1247.0 L872.6,1254.0 L877.0,1261.0 L881.5,1267.9 L885.9,1274.7 L890.4,1281.4 L894.8,1288.1 L899.3,1294.6 L903.7,1301.0 L908.2,1307.3 L912.7,1313.6 L917.1,1319.7 L921.6,1325.7 L926.1,1331.5 L930.5,1337.3 L935.0,1343.0 L939.4,1348.6 L943.9,1354.0 L948.4,1359.4 L952.8,1364.7 L957.3,1369.9 L961.7,1375.0 L966.2,1380.0 L970.7,1384.9 L975.1,1389.7 L979.6,1394.5 L984.0,1399.1 L988.5,1403.7 L993.0,1408.2 L997.4,1412.6 L1001.9,1416.9 L1006.3,1421.2 L1010.8,1425.4 L1015.3,1429.5 L1019.7,1433.5 L1024.2,1437.5 L1028.6,1441.4 L1033.1,1445.2 L1037.6,1449.0 L1042.0,1452.7 L1046.5,1456.3 L1050.9,1459.9 L1055.4,1463.5 L1059.9,1466.9 L1064.3,1470.3 L1068.8,1473.7 L1073.2,1477.0 L1077.7,1480.3 L1082.2,1483.5 L1086.6,1486.7 L1091.1,1489.8 L1095.5,1492.9 L1100.0,1495.9 L1104.5,1498.9 L1108.9,1501.8 L1113.4,1504.7 L1117.9,1507.5 L1122.3,1510.3 L1126.8,1513.0 L1131.2,1515.7 L1135.7,1518.3 L1140.2,1520.9 L1144.6,1523.4 L1149.1,1525.9 L1153.5,1528.3 L1158.0,1530.7 L1162.5,1533.1 L1166.9,1535.3 L1171.4,1537.6 L1175.8,1539.8 L1180.3,1541.9 L1184.7,1544.0 L1189.2,1546.0 L1193.7,1548.0 L1198.1,1549.9 L1202.6,1551.8 L1207.0,1553.6 L1211.5,1555.4 L1215.9,1557.1 L1220.4,1558.8 L1224.8,1560.4 L1229.3,1562.0 L1233.7,1563.5 L1238.1,1565.0 L1242.6,1566.4 L1247.0,1567.7 L1251.5,1569.1 L1255.9,1570.3 L1260.3,1571.5 L1264.7,1572.7 L1269.1,1573.8 L1273.5,1574.9 L1277.8,1575.9 L1282.1,1576.9 L1286.4,1577.9 L1290.7,1578.8 L1294.9,1579.7 L1299.1,1580.5 L1303.2,1581.3 L1307.3,1582.0 L1311.4,1582.8 L1315.3,1583.4 L1319.3,1584.1 L1323.2,1584.7 L1327.0,1585.3 L1330.8,1585.9 L1334.5,1586.4 L1338.1,1586.9 L1341.6,1587.4 L1345.1,1587.8 L1348.5,1588.2 L1351.8,1588.6 L1355.1,1589.0 L1358.2,1589.4 L1361.2,1589.7 L1364.2,1590.0 L1367.1,1590.3 L1369.8,1590.6 L1372.5,1590.9 L1375.0,1591.1 L1377.5,1591.3 L1379.8,1591.6 L1382.0,1591.8 L1384.1,1592.0 L1386.1,1592.2 L1387.9,1592.3 L1389.7,1592.5 L1391.3,1592.7 L1392.9,1592.8 L1394.4,1593.0 L1395.7,1593.1 L1397.0,1593.2 L1398.2,1593.3 L1399.3,1593.4 L1400.3,1593.5 L1401.3,1593.6 L1402.1,1593.7 L1402.9,1593.8 L1403.7,1593.8 L1404.3,1593.9 L1404.9,1594.0 L1405.4,1594.0 L1405.9,1594.1 L1406.4,1594.1 L1406.7,1594.1 L1407.1,1594.2 L1407.4,1594.2 L1407.6,1594.2 L1407.8,1594.2 L1408.0,1594.3 L1408.1,1594.3 L1408.2,1594.3 L1408.3,1594.3 L1408.4,1594.3 L1408.4,1594.3 L1408.5,1594.3 L1408.5,1594.3 L1408.5,1594.3 L1408.5,1594.3 L1408.5,1594.3" fill="none" stroke="#900088" stroke-width="7.2" stroke-linejoin="round" stroke-linecap="round"/>
<polygon points="381.47,464.90 419.77,442.25 419.77,487.55" fill="#900088" stroke="#900088" stroke-width="1.6" stroke-linejoin="round"/>
<polygon points="464.47,517.40 502.77,494.75 502.77,540.05" fill="#900088" stroke="#900088" stroke-width="1.6" stroke-linejoin="round"/>
<polygon points="547.87,591.00 586.17,568.35 586.17,613.65" fill="#900088" stroke="#900088" stroke-width="1.6" stroke-linejoin="round"/>
<polygon points="631.97,784.30 670.27,761.65 670.27,806.95" fill="#900088" stroke="#900088" stroke-width="1.6" stroke-linejoin="round"/>
<polygon points="715.07,1020.10 753.37,997.45 753.37,1042.75" fill="#900088" stroke="#900088" stroke-width="1.6" stroke-linejoin="round"/>
<polygon points="882.77,1333.50 921.07,1310.85 921.07,1356.15" fill="#900088" stroke="#900088" stroke-width="1.6" stroke-linejoin="round"/>
<polygon points="1049.87,1490.00 1088.17,1467.35 1088.17,1512.65" fill="#900088" stroke="#900088" stroke-width="1.6" stroke-linejoin="round"/>
<polygon points="1217.37,1578.50 1255.67,1555.85 1255.67,1601.15" fill="#900088" stroke="#900088" stroke-width="1.6" stroke-linejoin="round"/>
<polygon points="1382.97,1594.30 1421.27,1571.65 1421.27,1616.95" fill="#900088" stroke="#900088" stroke-width="1.6" stroke-linejoin="round"/>
<path d="M407.0,468.3L409.1,469.0M436.9,479.0L439.9,480.2M467.7,495.1L470.7,497.1M498.5,520.6L501.5,523.7M525.7,552.9L528.0,556.0M547.8,585.2L549.8,588.3M567.3,617.5L569.1,620.7M585.2,649.9L586.9,653.0M602.0,682.2L603.6,685.4M617.9,714.6L619.5,717.7M633.4,746.9L634.8,750.0M648.3,779.2L649.8,782.4M663.0,811.6L664.4,814.7M677.5,843.9L678.9,847.1M691.9,876.3L693.4,879.4M706.5,908.6L707.9,911.7M721.1,940.9L722.6,944.1M736.0,973.3L737.5,976.4M751.1,1005.6L752.6,1008.8M766.4,1038.0L767.9,1041.1M782.0,1070.3L783.5,1073.4M797.8,1102.6L799.4,1105.8M814.1,1135.0L815.7,1138.1M830.8,1167.3L832.4,1170.5M848.0,1199.7L849.7,1202.8M865.8,1232.0L867.6,1235.1M884.5,1264.3L886.3,1267.5M904.1,1296.7L906.1,1299.8M925.1,1329.0L927.2,1332.2M947.8,1361.4L950.1,1364.5M972.7,1393.7L975.3,1396.8M1000.7,1426.0L1003.6,1429.2M1031.4,1456.8L1034.4,1459.5M1062.2,1482.7L1065.2,1484.9M1093.0,1503.7L1096.0,1505.5M1123.8,1520.3L1126.8,1521.7M1154.6,1533.4L1157.6,1534.5M1185.4,1543.8L1188.4,1544.7M1216.2,1552.4L1219.2,1553.2M1247.0,1560.1L1250.0,1560.9M1277.8,1567.6L1280.8,1568.3M1308.6,1574.9L1311.6,1575.6M1339.4,1582.1L1342.4,1582.8M1370.2,1589.2L1373.2,1589.9M1401.0,1596.3L1404.0,1597.0" fill="none" stroke="#808000" stroke-width="7.2" stroke-linecap="round"/>
<polygon points="432.53,468.30 394.23,445.65 394.23,490.95" fill="#808000" stroke="#808000" stroke-width="1.6" stroke-linejoin="round"/>
<polygon points="515.53,496.70 477.23,474.05 477.23,519.35" fill="#808000" stroke="#808000" stroke-width="1.6" stroke-linejoin="round"/>
<polygon points="598.93,619.40 560.63,596.75 560.63,642.05" fill="#808000" stroke="#808000" stroke-width="1.6" stroke-linejoin="round"/>
<polygon points="683.03,796.50 644.73,773.85 644.73,819.15" fill="#808000" stroke="#808000" stroke-width="1.6" stroke-linejoin="round"/>
<polygon points="766.13,988.70 727.83,966.05 727.83,1011.35" fill="#808000" stroke="#808000" stroke-width="1.6" stroke-linejoin="round"/>
<polygon points="933.83,1328.50 895.53,1305.85 895.53,1351.15" fill="#808000" stroke="#808000" stroke-width="1.6" stroke-linejoin="round"/>
<polygon points="1100.93,1516.30 1062.63,1493.65 1062.63,1538.95" fill="#808000" stroke="#808000" stroke-width="1.6" stroke-linejoin="round"/>
<polygon points="1268.43,1560.00 1230.13,1537.35 1230.13,1582.65" fill="#808000" stroke="#808000" stroke-width="1.6" stroke-linejoin="round"/>
<polygon points="1434.03,1598.00 1395.73,1575.35 1395.73,1620.65" fill="#808000" stroke="#808000" stroke-width="1.6" stroke-linejoin="round"/>
<rect x="991.0" y="175.2" width="1123.4" height="811.9000000000001" fill="#fff" stroke="#000" stroke-width="4.2"/>
<path d="M1013.6,241.5H1159.6" fill="none" stroke="#000000" stroke-width="7.2" stroke-linecap="round"/>
<rect x="1068.00" y="223.00" width="37" height="39" fill="#000000"/>
<text transform="translate(1179.85,266.40) scale(0.9229,1)" font-size="85.8" font-family="'Liberation Serif', serif" font-weight="bold" style="font-kerning:none">Experimental: CNT50</text>
<text transform="translate(1932.91,293.00) scale(0.9263,1)" font-size="85.8" font-family="'Liberation Serif', serif" font-weight="bold" style="font-kerning:none">4mm</text>
<path d="M1013.6,377.0H1160" fill="none" stroke="#FF8000" stroke-width="7.2" stroke-linecap="round" stroke-dasharray="3.8 27.0"/>
<ellipse cx="1086.50" cy="377.00" rx="19.65" ry="20.9" fill="#FF8000"/>
<text transform="translate(1177.36,401.90) scale(0.9278,1)" font-size="85.8" font-family="'Liberation Serif', serif" font-weight="bold" style="font-kerning:none">Simulated: CNT50</text>
<text transform="translate(1815.73,428.50) scale(0.9159,1)" font-size="85.8" font-family="'Liberation Serif', serif" font-weight="bold" style="font-kerning:none">4mm</text>
<path d="M1013.6,511.5H1159.6" fill="none" stroke="#008080" stroke-width="7.2" stroke-linecap="round"/>
<polygon points="1086.50,484.43 1064.00,525.03 1109.00,525.03" fill="#008080" stroke="#008080" stroke-width="2.4" stroke-linejoin="round"/>
<text transform="translate(1179.85,536.40) scale(0.9226,1)" font-size="85.8" font-family="'Liberation Serif', serif" font-weight="bold" style="font-kerning:none">Experimental: CNT50</text>
<text transform="translate(1929.82,563.00) scale(0.9376,1)" font-size="85.8" font-family="'Liberation Serif', serif" font-weight="bold" style="font-kerning:none">2mm</text>
<path d="M1013.6,645.5H1160" fill="none" stroke="#960000" stroke-width="7.2" stroke-linecap="round" stroke-dasharray="3.8 27.0"/>
<polygon points="1086.50,673.77 1064.00,633.17 1109.00,633.17" fill="#960000" stroke="#960000" stroke-width="2.4" stroke-linejoin="round"/>
<text transform="translate(1177.36,670.40) scale(0.9278,1)" font-size="85.8" font-family="'Liberation Serif', serif" font-weight="bold" style="font-kerning:none">Simulated: CNT50</text>
<text transform="translate(1811.62,697.00) scale(0.9382,1)" font-size="85.8" font-family="'Liberation Serif', serif" font-weight="bold" style="font-kerning:none">2mm</text>
<path d="M1013.6,780.7H1159.6" fill="none" stroke="#900088" stroke-width="7.2" stroke-linecap="round"/>
<polygon points="1061.43,781.10 1099.03,757.55 1099.03,804.65" fill="#900088" stroke="#900088" stroke-width="2.4" stroke-linejoin="round"/>
<text transform="translate(1179.85,805.60) scale(0.9224,1)" font-size="85.8" font-family="'Liberation Serif', serif" font-weight="bold" style="font-kerning:none">Experimental: CNT50</text>
<text transform="translate(1930.17,832.20) scale(0.9357,1)" font-size="85.8" font-family="'Liberation Serif', serif" font-weight="bold" style="font-kerning:none">1mm</text>
<path d="M1013.6,915.1H1160" fill="none" stroke="#808000" stroke-width="7.2" stroke-linecap="round" stroke-dasharray="3.8 27.0"/>
<polygon points="1111.57,915.50 1073.97,891.95 1073.97,939.05" fill="#808000" stroke="#808000" stroke-width="2.4" stroke-linejoin="round"/>
<text transform="translate(1177.35,940.00) scale(0.9297,1)" font-size="85.8" font-family="'Liberation Serif', serif" font-weight="bold" style="font-kerning:none">Simulates: CNT50</text>
<text transform="translate(1800.76,966.60) scale(0.9374,1)" font-size="85.8" font-family="'Liberation Serif', serif" font-weight="bold" style="font-kerning:none">1mm</text>
</svg>
</body></html>
